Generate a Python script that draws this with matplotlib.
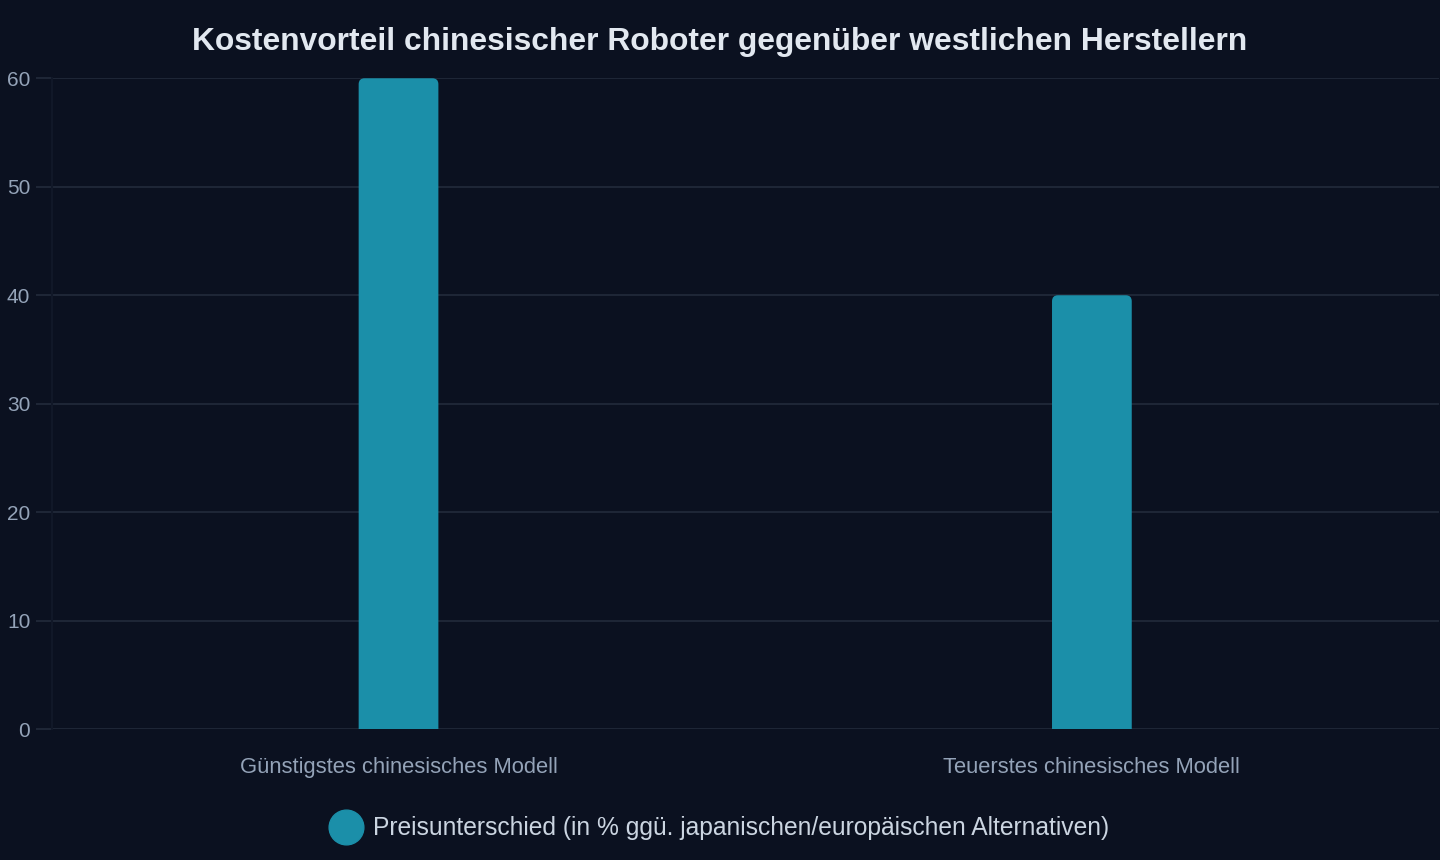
import matplotlib.pyplot as plt
from matplotlib.patches import FancyBboxPatch
from matplotlib.lines import Line2D

plt.rcParams['font.family'] = ['Liberation Sans', 'DejaVu Sans']

# Daten
kategorien = ['Günstigstes chinesisches Modell', 'Teuerstes chinesisches Modell']
werte = [60, 40]
serie = 'Preisunterschied (in % ggü. japanischen/europäischen Alternativen)'
y_ticks = [0, 10, 20, 30, 40, 50, 60]

bg = '#0b1120'
bar_farbe = '#1b8fa9'
grid_farbe = '#1e2636'
tick_farbe = '#94a3b8'

fig = plt.figure(figsize=(14.4, 8.6), dpi=100, facecolor=bg)
ax = fig.add_axes([0.036, 0.152, 0.963, 0.757])
ax.set_facecolor(bg)

bars = ax.bar(range(len(kategorien)), werte, width=0.115, color='none')
ax.set_xlim(-0.5, len(kategorien) - 0.5)
ax.set_ylim(0, 60)

# abgerundete Balken (oben)
for b in bars:
    r = 0.0086
    p = FancyBboxPatch((b.get_x(), -1), b.get_width(), b.get_height() + 1,
                       boxstyle='round,pad=0,rounding_size=%f' % r,
                       mutation_aspect=64, facecolor=bar_farbe, edgecolor='none',
                       zorder=3)
    ax.add_patch(p)

ax.set_yticks(y_ticks)
ax.set_xticks(range(len(kategorien)))
ax.set_xticklabels(kategorien)
ax.grid(axis='y', color=grid_farbe, linewidth=1.5)
ax.set_axisbelow(True)
ax.tick_params(axis='y', colors=grid_farbe, labelcolor=tick_farbe, labelsize=15,
               length=11.5, width=1.5, pad=4)
ax.tick_params(axis='x', length=0, labelcolor=tick_farbe, labelsize=15.8, pad=20)
for s in ['top', 'right', 'bottom']:
    ax.spines[s].set_visible(False)
ax.spines['left'].set_color('#111828')
ax.spines['left'].set_linewidth(1.5)

fig.text(0.5, 0.951, 'Kostenvorteil chinesischer Roboter gegenüber westlichen Herstellern',
         ha='center', va='center', fontsize=22.9, fontweight='bold', color='#e2e8f0')

handle = Line2D([], [], marker='o', linestyle='none', markersize=25,
                markerfacecolor=bar_farbe, markeredgecolor=bar_farbe)
leg = fig.legend([handle], [serie], loc='center', bbox_to_anchor=(0.5, 0.037),
                 frameon=False, fontsize=17.7, handletextpad=0.5, handlelength=1.2)
for t in leg.get_texts():
    t.set_color('#cbd5e1')

fig.savefig('out.png', dpi=100, facecolor=bg)
